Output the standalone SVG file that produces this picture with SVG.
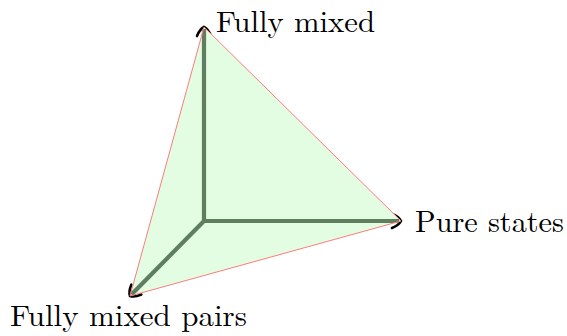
<svg xmlns="http://www.w3.org/2000/svg" width="567" height="336" viewBox="0 0 567 336">
<defs>
<style>
.tip{fill:none;stroke:#000;stroke-width:2.6;stroke-linecap:round}
.axis{stroke:#5f7e5f;stroke-width:4.2;fill:none}
.face{fill:#e2fde2;stroke:none}
.edge{fill:none;stroke:#ff7b7b;stroke-width:1}
.lbl{font-family:"Latin Modern Roman","Liberation Serif",serif;font-size:30px;fill:#000}
</style>
<path id="tipshape" class="tip" d="M -7,9 C -5,4 -2,1 0,0 C 2,1 5,4 7,9"/>
</defs>
<rect width="567" height="336" fill="#fff"/>
<g id="tips">
<use href="#tipshape" transform="translate(204,27)"/>
<use href="#tipshape" transform="translate(401,221) rotate(90)"/>
<use href="#tipshape" transform="translate(130,296) rotate(224.6)"/>
</g>
<g id="face">
<polygon class="face" points="204,27 401,221 130,296"/>
</g>
<g id="connectors">
<line class="axis" x1="204" y1="221" x2="204" y2="29"/>
<line class="axis" x1="204" y1="221" x2="399" y2="221"/>
<line class="axis" x1="204" y1="221" x2="131.5" y2="294.5"/>
<polygon class="edge" points="204,27 401,221 130,296"/>
</g>
<g id="node-fully-mixed">
<text class="lbl" x="216" y="32" textLength="159" lengthAdjust="spacingAndGlyphs">Fully mixed</text>
</g>
<g id="node-pure-states">
<text class="lbl" x="415" y="232" textLength="149" lengthAdjust="spacingAndGlyphs">Pure states</text>
</g>
<g id="node-fully-mixed-pairs">
<text class="lbl" x="10" y="326" textLength="237" lengthAdjust="spacingAndGlyphs">Fully mixed pairs</text>
</g>
</svg>
